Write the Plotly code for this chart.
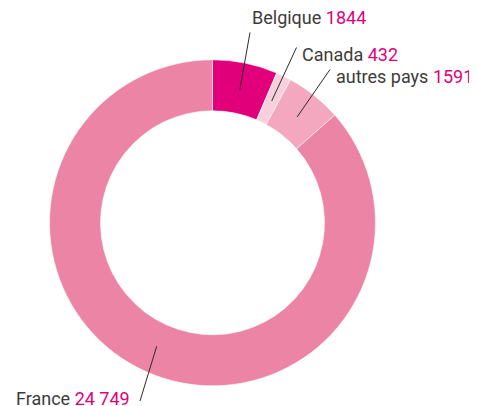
import math

import plotly.graph_objects as go

countries = ["Belgique", "Canada", "autres pays", "France"]
values = [1844, 432, 1591, 24749]
value_labels = ["1844", "432", "1591", "24 749"]
colors = ["#e2007a", "#f8cfdc", "#f3a8bf", "#ec84a5"]

# the page body has an 8px margin, so work in window pixels and shift
OFF = 8
W, H = 477 - OFF, 406 - OFF
cx, cy, r_out = 212.5, 222.8, 163
hole = 0.687

# label boxes (left x, vertical middle y) and outer end of the leader line, window pixels
label_pos = [(250, 17), (300, 54.5), (334, 76.5), (14, 398)]
leader_end = [(250, 32.5), (296.5, 47.5), (330, 69.5), (140, 401)]

TEXT = "#3c3c3b"
ACCENT = "#e2007a"


def px(x, y):
    return (x - OFF) / W, 1 - (y - OFF) / H


fig = go.Figure(
    go.Pie(
        labels=countries,
        values=values,
        hole=hole,
        sort=False,
        direction="clockwise",
        rotation=0,
        textinfo="none",
        hoverinfo="label+value",
        marker=dict(colors=colors, line=dict(color="white", width=0.6)),
        domain=dict(
            x=[(cx - r_out - OFF) / W, (cx + r_out - OFF) / W],
            y=[1 - (cy + r_out - OFF) / H, 1 - (cy - r_out - OFF) / H],
        ),
        showlegend=False,
    )
)

total = sum(values)
r_mid = r_out * (1 + hole) / 2 - 2
cum = 0
shapes = []
annotations = []
for name, v, lab, (lx, ly), (ex, ey) in zip(
    countries, values, value_labels, label_pos, leader_end
):
    ang = math.radians((cum + v / 2) / total * 360)
    cum += v
    ax_, ay_ = cx + r_mid * math.sin(ang), cy - r_mid * math.cos(ang)
    x0, y0 = px(ax_, ay_)
    x1, y1 = px(ex, ey)
    shapes.append(
        dict(type="line", xref="paper", yref="paper", x0=x0, y0=y0, x1=x1, y1=y1,
             line=dict(color="#2b2b2b", width=1))
    )
    tx, ty = px(lx, ly)
    annotations.append(
        dict(
            x=tx, y=ty, xref="paper", yref="paper", xanchor="left", yanchor="middle",
            showarrow=False,
            text=f"{name} <span style='color:{ACCENT}'>{lab}</span>",
            font=dict(family="Roboto", size=18, color=TEXT),
        )
    )

fig.update_layout(
    width=W,
    height=H,
    margin=dict(l=0, r=0, t=0, b=0),
    paper_bgcolor="white",
    plot_bgcolor="white",
    shapes=shapes,
    annotations=annotations,
)

fig.write_html("out.html")
